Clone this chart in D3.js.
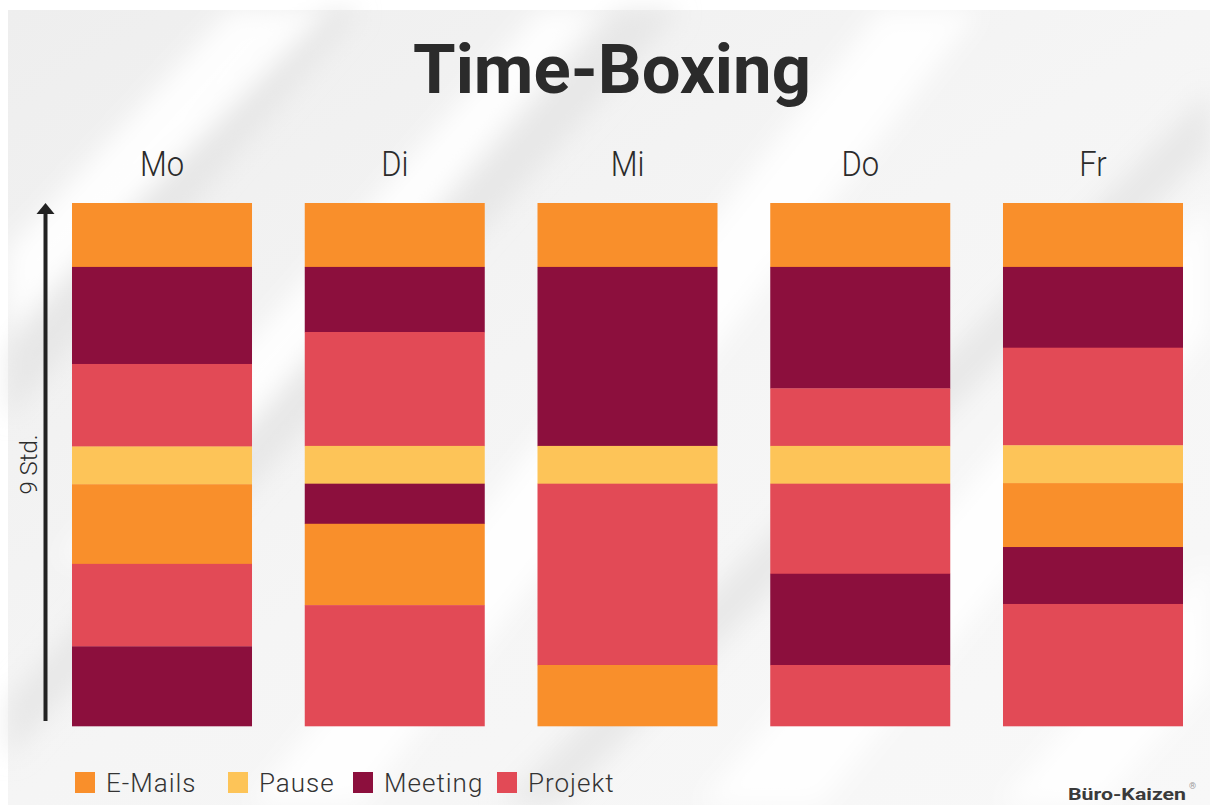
<!DOCTYPE html>
<html>
<head>
<meta charset="utf-8">
<script src="https://cdn.jsdelivr.net/npm/d3@7"></script>
<style>
  html, body { margin: 0; padding: 0; background: #ffffff; }
  svg { display: block; }
</style>
</head>
<body>
<svg id="chart" width="1210" height="805"></svg>
<script>
// ---- data ----
const days = ["Mo", "Di", "Mi", "Do", "Fr"];
const categories = ["E-Mails", "Pause", "Meeting", "Projekt"];
const categoryColors = ["#F98F2B", "#FDC458", "#8C0F3D", "#E24A56"];
const totalHours = 9;
const axisLabel = "9 Std.";

const moTasks = ["E-Mails", "Meeting", "Projekt", "Pause", "E-Mails", "Projekt", "Meeting"];
const moHours = [1.10, 1.67, 1.42, 0.65, 1.37, 1.42, 1.37];
const diTasks = ["E-Mails", "Meeting", "Projekt", "Pause", "Meeting", "E-Mails", "Projekt"];
const diHours = [1.10, 1.12, 1.96, 0.65, 0.69, 1.40, 2.08];
const miTasks = ["E-Mails", "Meeting", "Pause", "Projekt", "E-Mails"];
const miHours = [1.10, 3.08, 0.65, 3.12, 1.05];
const doTasks = ["E-Mails", "Meeting", "Projekt", "Pause", "Projekt", "Meeting", "Projekt"];
const doHours = [1.10, 2.09, 0.99, 0.65, 1.55, 1.57, 1.05];
const frTasks = ["E-Mails", "Meeting", "Projekt", "Pause", "E-Mails", "Meeting", "Projekt"];
const frHours = [1.10, 1.39, 1.68, 0.65, 1.10, 0.98, 2.10];

const dayTasks = [moTasks, diTasks, miTasks, doTasks, frTasks];
const dayHours = [moHours, diHours, miHours, doHours, frHours];

// ---- setup ----
const W = 1210, H = 805;
const svg = d3.select("#chart");
const defs = svg.append("defs");

// background
const bgGrad = defs.append("linearGradient").attr("id", "bgGrad")
  .attr("x1", "0").attr("y1", "0").attr("x2", "1").attr("y2", "1");
bgGrad.append("stop").attr("offset", "0%").attr("stop-color", "#eeeeee");
bgGrad.append("stop").attr("offset", "50%").attr("stop-color", "#f5f5f5");
bgGrad.append("stop").attr("offset", "100%").attr("stop-color", "#f8f8f8");
svg.append("rect").attr("x", 0).attr("y", 0).attr("width", W).attr("height", H).attr("fill", "#ffffff");
svg.append("rect").attr("x", 8).attr("y", 10).attr("width", W - 8).attr("height", H - 10).attr("fill", "url(#bgGrad)");

defs.append("filter").attr("id", "blur").attr("x", "-20%").attr("y", "-20%").attr("width", "140%").attr("height", "140%")
  .append("feGaussianBlur").attr("stdDeviation", 12);
const streaks = svg.append("g").attr("filter", "url(#blur)");
const greyStreaks = [
  [[8, 420], [8, 350], [300, 10], [360, 10]],
  [[8, 760], [8, 700], [620, 10], [680, 10]],
  [[500, 805], [560, 805], [1210, 150], [1210, 90]]
];
streaks.selectAll("polygon.g").data(greyStreaks).join("polygon").attr("class", "g")
  .attr("points", d => d.map(p => p.join(",")).join(" "))
  .attr("fill", "#e2e2e2").attr("opacity", 0.7);
const streakPolys = [
  [[8, 330], [8, 250], [230, 10], [330, 10]],
  [[60, 560], [130, 560], [600, 10], [540, 10]],
  [[250, 805], [360, 805], [980, 10], [880, 10]],
  [[700, 805], [820, 805], [1210, 330], [1210, 200]],
  [[1000, 805], [1100, 805], [1210, 680], [1210, 560]]
];
streaks.selectAll("polygon.w").data(streakPolys).join("polygon").attr("class", "w")
  .attr("points", d => d.map(p => p.join(",")).join(" "))
  .attr("fill", "#ffffff").attr("opacity", 0.9);

// ---- scales ----
const x = d3.scaleBand().domain(days).range([72, 1183]).paddingInner(0.2266).paddingOuter(0);
const y = d3.scaleLinear().domain([0, totalHours]).range([203, 726]);
const color = d3.scaleOrdinal().domain(categories).range(categoryColors);

// ---- title ----
svg.append("text")
  .attr("x", 612).attr("y", 93)
  .attr("text-anchor", "middle")
  .attr("font-family", "Roboto, 'Liberation Sans', sans-serif")
  .attr("font-weight", 700)
  .attr("font-size", 68)
  .attr("fill", "#2b2b2b")
  .attr("textLength", 398)
  .attr("lengthAdjust", "spacingAndGlyphs")
  .text("Time-Boxing");

// ---- day labels ----
svg.append("g").selectAll("text").data(days).join("text")
  .attr("transform", d => `translate(${x(d) + x.bandwidth() / 2},176) scale(0.86,1)`)
  .attr("text-anchor", "middle")
  .attr("font-family", "Roboto, sans-serif")
  .attr("font-weight", 300)
  .attr("font-size", 36)
  .attr("fill", "#2b2b2b")
  .text(d => d);

// ---- blocks ----
const blocks = [];
days.forEach((day, i) => {
  let acc = 0;
  dayTasks[i].forEach((task, j) => {
    const h = dayHours[i][j];
    blocks.push({ day, task, start: acc, end: acc + h });
    acc += h;
  });
});
svg.append("g").selectAll("rect").data(blocks).join("rect")
  .attr("x", d => x(d.day))
  .attr("width", x.bandwidth())
  .attr("y", d => y(d.start))
  .attr("height", d => y(d.end) - y(d.start) + 0.3)
  .attr("fill", d => color(d.task));

// ---- arrow ----
const arrowX = 45.5;
svg.append("line")
  .attr("x1", arrowX).attr("x2", arrowX)
  .attr("y1", y(totalHours) - 5).attr("y2", y(0) + 8)
  .attr("stroke", "#222").attr("stroke-width", 4);
svg.append("path")
  .attr("d", `M${arrowX},${y(0)} L${arrowX + 9},${y(0) + 11} L${arrowX - 9},${y(0) + 11} Z`)
  .attr("fill", "#222");
svg.append("text")
  .attr("transform", `translate(37,${(y(0) + y(totalHours)) / 2}) rotate(-90)`)
  .attr("text-anchor", "middle")
  .attr("font-family", "Roboto, sans-serif")
  .attr("font-weight", 300)
  .attr("font-size", 24)
  .attr("fill", "#2b2b2b")
  .text(axisLabel);

// ---- legend ----
const legendX = [75, 228, 353, 497];
const legend = svg.append("g");
categories.forEach((c, i) => {
  const lx = legendX[i];
  legend.append("rect").attr("x", lx).attr("y", 772).attr("width", 20).attr("height", 21).attr("fill", color(c));
  legend.append("text")
    .attr("x", lx + 31).attr("y", 792)
    .attr("font-family", "Roboto, sans-serif")
    .attr("font-weight", 300)
    .attr("font-size", 26)
    .attr("letter-spacing", 1)
    .attr("fill", "#333")
    .text(c);
});

// ---- watermark ----
svg.append("text")
  .attr("x", 1068).attr("y", 800)
  .attr("font-family", "Roboto, sans-serif")
  .attr("font-weight", 700)
  .attr("font-size", 17)
  .attr("fill", "#3a3a3a")
  .attr("textLength", 118)
  .attr("lengthAdjust", "spacingAndGlyphs")
  .text("Büro-Kaizen");
svg.append("text")
  .attr("x", 1189).attr("y", 789)
  .attr("font-family", "Roboto, sans-serif")
  .attr("font-size", 9)
  .attr("fill", "#999")
  .text("®");
</script>
</body>
</html>
